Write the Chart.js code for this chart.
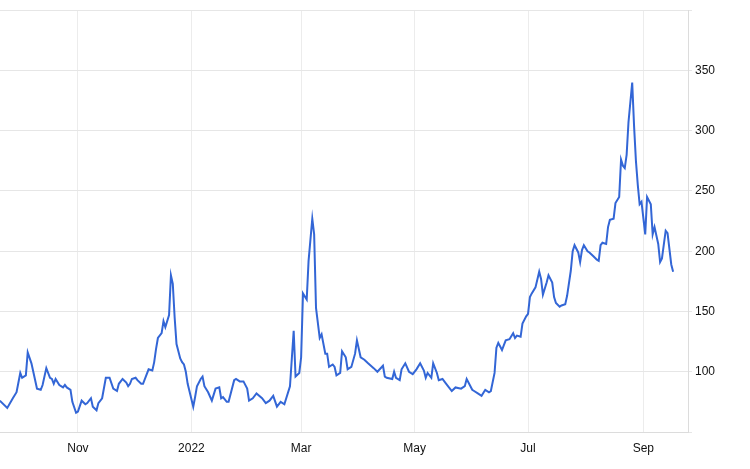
<!DOCTYPE html>
<html>
<head>
<meta charset="utf-8">
<script src="https://cdn.jsdelivr.net/npm/chart.js@4/dist/chart.umd.min.js"></script>
<style>
  html, body { margin: 0; padding: 0; background: #fff; }
  #wrap { width: 750px; height: 469px; }
</style>
</head>
<body>
<div id="wrap"><canvas id="chart-price"></canvas></div>
<script>
// days counted from 1 Jan 2022 (negative = late 2021)
const days = [
  -103, -99, -96, -94, -92, -91, -89, -88, -86, -84, -83, -81, -80, -78, -76, -75, -74, -73, -71, -69,
  -68, -67, -65, -64, -62, -61, -59, -57, -56, -54, -53, -51, -50, -48, -46, -44, -42, -40, -39, -37,
  -35, -34, -33, -32, -30, -29, -27, -26, -24, -23, -21, -20, -19, -18, -16, -15, -14, -12, -11, -10,
  -9, -8, -6, -5, -4, -3, -2, 1, 2, 3, 5, 6, 7, 9, 11, 13, 15, 16, 17, 19,
  20, 23, 24, 26, 28, 30, 31, 33, 35, 38, 40, 42, 44, 46, 48, 50, 53, 55, 56, 58,
  59, 60, 62, 63, 65, 66, 67, 69, 70, 72, 73, 74, 76, 77, 78, 80, 81, 83, 84, 86,
  88, 89, 91, 93, 95, 98, 100, 103, 104, 105, 108, 109, 110, 112, 113, 115, 117, 119, 121, 123,
  125, 126, 127, 129, 130, 132, 133, 135, 137, 140, 142, 145, 147, 148, 151, 152, 154, 156, 158, 160,
  161, 163, 164, 165, 167, 168, 169, 171, 173, 174, 175, 177, 178, 180, 181, 182, 183, 185, 187, 188,
  189, 191, 192, 194, 195, 196, 198, 199, 201, 202, 204, 205, 206, 208, 209, 210, 211, 213, 214, 216,
  218, 219, 220, 221, 223, 224, 225, 227, 228, 230, 231, 232, 233, 234, 235, 237, 238, 239, 240, 241,
  242, 244, 245, 247, 248, 249, 251, 252, 253, 255, 256, 258, 259
];
const values = [
  76, 70, 78, 83, 99, 95, 97, 116, 107, 93, 86, 85, 89, 103, 95, 94, 90, 94, 89, 87,
  89, 87, 85, 75, 66, 67, 76, 73, 74, 78, 71, 68, 74, 78, 95, 95, 86, 84, 90, 94,
  91, 88, 90, 94, 95, 93, 90, 90, 98, 102, 101, 108, 119, 128, 132, 142, 137, 147, 180, 173,
  145, 123, 111, 108, 106, 100, 90, 71, 79, 88, 94, 96, 88, 83, 76, 86, 87, 78, 79, 75,
  75, 93, 94, 92, 92, 86, 76, 78, 82, 78, 74, 76, 80, 71, 75, 73, 88, 134, 96, 99,
  112, 165, 160, 192, 227, 214, 153, 128, 131, 115, 115, 104, 106, 104, 97, 99, 117, 112, 102, 104,
  115, 126, 112, 110, 107, 103, 100, 105, 96, 95, 94, 100, 95, 93, 102, 107, 100, 98, 102, 107,
  101, 95, 99, 95, 107, 99, 93, 94, 90, 84, 87, 86, 88, 94, 85, 84, 82, 80, 85, 83,
  84, 99, 120, 124, 118, 122, 126, 127, 132, 128, 130, 129, 140, 146, 148, 162, 165, 170, 183, 177,
  164, 174, 180, 174, 162, 157, 154, 155, 156, 163, 184, 200, 205, 199, 191, 201, 205, 200, 199, 196,
  193, 192, 205, 207, 206, 220, 226, 227, 240, 245, 276, 271, 269, 280, 307, 340, 304, 275, 255, 239,
  241, 214, 245, 239, 214, 220, 206, 191, 194, 217, 215, 189, 183
];
// month starts shown on the x axis
const tickDays = [-61, 0, 59, 120, 181, 243];
const tickLabels = ['Nov', '2022', 'Mar', 'May', 'Jul', 'Sep'];
const yTicks = [100, 150, 200, 250, 300, 350];

const points = days.map((d, i) => ({ x: d, y: values[i] }));

const ctx = document.getElementById('chart-price').getContext('2d');
const myChart = new Chart(ctx, {
  type: 'line',
  data: {
    datasets: [{
      data: points,
      borderColor: '#3366d6',
      borderWidth: 2,
      pointRadius: 0,
      tension: 0,
      fill: false
    }]
  },
  options: {
    responsive: true,
    maintainAspectRatio: false,
    animation: false,
    layout: { padding: { top: 2, left: 0, right: 0, bottom: 0 } },
    plugins: {
      legend: { display: false },
      tooltip: { enabled: false }
    },
    scales: {
      x: {
        type: 'linear',
        min: -102.9,
        max: 267,
        afterBuildTicks: scale => {
          scale.ticks = tickDays.map(v => ({ value: v }));
        },
        afterFit: scale => { scale.height = 37; },
        ticks: {
          autoSkip: false,
          maxRotation: 0,
          padding: 9,
          color: '#111',
          font: { family: 'Liberation Sans', size: 12 },
          callback: (val) => {
            const i = tickDays.indexOf(val);
            return i >= 0 ? tickLabels[i] : '';
          }
        },
        grid: { color: '#ececec', drawTicks: false },
        border: { color: '#dcdcdc' }
      },
      y: {
        position: 'right',
        min: 50,
        max: 400,
        afterBuildTicks: scale => {
          scale.ticks = [50, ...yTicks, 400].map(v => ({ value: v }));
        },
        afterFit: scale => { scale.width = 62; },
        ticks: {
          padding: 3,
          color: '#111',
          font: { family: 'Liberation Sans', size: 12 },
          callback: (val) => yTicks.includes(val) ? String(val) : ''
        },
        grid: { color: '#e6e6e6', tickLength: 4 },
        border: { color: '#dcdcdc' }
      }
    }
  }
});
</script>
</body>
</html>
